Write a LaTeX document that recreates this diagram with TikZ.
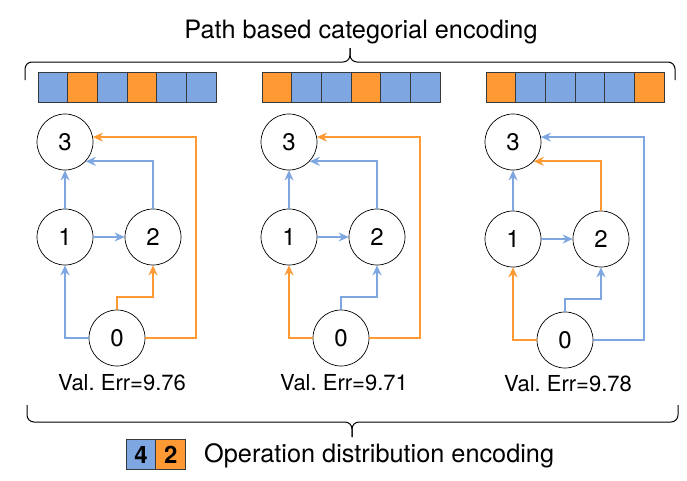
\documentclass[tikz,border=0pt]{standalone}
\usepackage{fontspec}
\setmainfont{TeX Gyre Heros}
\usetikzlibrary{arrows.meta,positioning}
\definecolor{eblue}{HTML}{7EA6E0}
\definecolor{eorange}{HTML}{FF9933}
\definecolor{eline}{HTML}{36393D}
\frenchspacing

\begin{document}
\begin{tikzpicture}[x=1pt,y=-1pt,
    vert/.style={circle,draw,line width=0.7pt,minimum size=56pt,inner sep=0pt,font=\fontsize{24}{28}\selectfont},
    cellbox/.style={draw=eline,line width=0.8pt,minimum width=29.7pt,minimum height=30pt,inner sep=0pt,outer sep=0pt},
    edge/.style={line width=2.2pt,-{Stealth[length=10pt,width=9pt]}},
    brace/.style={line width=1pt,rounded corners=7pt},
    lbl/.style={font=\fontsize{22}{26}\selectfont},
    head/.style={inner sep=0pt,font=\fontsize{25.3}{30}\selectfont}]
    \useasboundingbox (0,0) rectangle (687,480);

    % top brace
    \coordinate (tl) at (25,80);
    \coordinate (tr) at (675,80);
    \coordinate (tm) at (350,62);
    \draw[brace] (tl) |- (tm) -- ++(0,-14);
    \draw[brace] (tr) |- (tm) -- ++(0,-14);
    \node[head,anchor=base] (ttl) at (361,38) {Path based categorial encoding};

    % first cell
    \foreach \k/\col in {0/eblue,1/eorange,2/eblue,3/eorange,4/eblue,5/eblue}
        \node[cellbox,fill=\col] (a-c\k) at (52.85+29.7*\k,87) {};
    \node[vert] (a3) at (65,142) {3};
    \node[vert] (a1) at (65,237) {1};
    \node[vert] (a2) at (153,237) {2};
    \node[vert] (a0) at (117,338) {0};
    \node[lbl] (va) at (122,383) {Val. Err=9.76};
    \draw[edge,eblue] (a1) -- (a3);
    \draw[edge,eblue] (a1) -- (a2);
    \draw[edge,eblue] (a2.north) |- (a3.-43);
    \draw[edge,eblue] (a0.west) -| (a1.south);
    \draw[edge,eorange] (a0.north) -- ++(0,-13) -| (a2.south);
    \draw[edge,eorange] (a0.east) -- ++(51,0) |- (a3.10);

    % second cell
    \begin{scope}[xshift=224pt]
    \foreach \k/\col in {0/eorange,1/eblue,2/eblue,3/eorange,4/eblue,5/eblue}
        \node[cellbox,fill=\col] (b-c\k) at (52.85+29.7*\k,87) {};
    \node[vert] (b3) at (65,142) {3};
    \node[vert] (b1) at (65,237) {1};
    \node[vert] (b2) at (153,237) {2};
    \node[vert] (b0) at (117,338) {0};
    \node[lbl] (vb) at (120,383) {Val. Err=9.71};
    \draw[edge,eblue] (b1) -- (b3);
    \draw[edge,eblue] (b1) -- (b2);
    \draw[edge,eblue] (b2.north) |- (b3.-43);
    \draw[edge,eorange] (b0.west) -| (b1.south);
    \draw[edge,eblue] (b0.north) -- ++(0,-13) -| (b2.south);
    \draw[edge,eorange] (b0.east) -- ++(51,0) |- (b3.10);
    \end{scope}

    % third cell
    \begin{scope}[xshift=448pt]
    \foreach \k/\col in {0/eorange,1/eblue,2/eblue,3/eblue,4/eblue,5/eorange}
        \node[cellbox,fill=\col] (c-c\k) at (52.85+29.7*\k,87) {};
    \node[vert] (c3) at (65,142) {3};
    \node[vert] (c1) at (65,239) {1};
    \node[vert] (c2) at (153,239) {2};
    \node[vert] (c0) at (117,340) {0};
    \node[lbl] (vc) at (120,384) {Val. Err=9.78};
    \draw[edge,eblue] (c1) -- (c3);
    \draw[edge,eblue] (c1) -- (c2);
    \draw[edge,eorange] (c2.north) |- (c3.-43);
    \draw[edge,eorange] (c0.west) -| (c1.south);
    \draw[edge,eblue] (c0.north) -- ++(0,-13) -| (c2.south);
    \draw[edge,eblue] (c0.east) -- ++(51,0) |- (c3.10);
    \end{scope}

    % bottom brace
    \coordinate (bl) at (27,405);
    \coordinate (br) at (678,405);
    \coordinate (bm) at (352,422);
    \draw[brace] (bl) |- (bm) -- ++(0,15);
    \draw[brace] (br) |- (bm) -- ++(0,15);
    \node[cellbox,fill=eblue,font=\bfseries\fontsize{24}{28}\selectfont] (lb) at (141,454.5) {4};
    \node[cellbox,fill=eorange,font=\bfseries\fontsize{24}{28}\selectfont,right=0pt of lb] (lo) {2};
    \node[head,anchor=base west] (opd) at (204,462) {Operation distribution encoding};
\end{tikzpicture}
\end{document}
